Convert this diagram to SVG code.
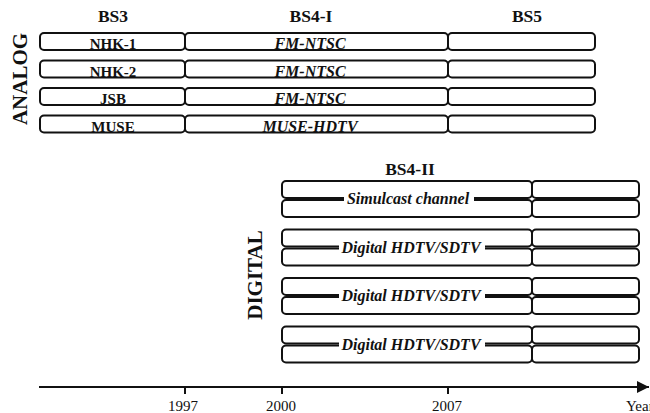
<svg xmlns="http://www.w3.org/2000/svg" width="650" height="413" viewBox="0 0 650 413">
<defs>
<style>
.box{fill:#fff;stroke:#111;stroke-width:2;}
.hdr{font-family:"Liberation Serif",serif;font-weight:bold;font-size:17.5px;text-anchor:middle;fill:#111;}
.lbl{font-family:"Liberation Serif",serif;font-weight:bold;font-size:15px;text-anchor:middle;fill:#111;}
.ital{font-family:"Liberation Serif",serif;font-weight:bold;font-style:italic;font-size:16px;text-anchor:middle;fill:#111;}
.side{font-family:"Liberation Serif",serif;font-weight:bold;font-size:21px;text-anchor:middle;fill:#111;}
.yr{font-family:"Liberation Serif",serif;font-size:15px;text-anchor:middle;fill:#111;}
.ax{stroke:#111;stroke-width:2;fill:none;}
</style>
<marker id="arr" viewBox="0 0 10 10" refX="10" refY="5" markerWidth="7" markerHeight="6" orient="auto" markerUnits="strokeWidth">
<path d="M0,0 L10,5 L0,10 z" fill="#111"/>
</marker>
</defs>
<rect width="650" height="413" fill="#fff"/>

<g id="headers">
<text class="hdr" x="113" y="22">BS3</text>
<text class="hdr" x="311" y="22">BS4-I</text>
<text class="hdr" x="527" y="22">BS5</text>
<text class="hdr" x="410" y="175">BS4-II</text>
</g>
<g id="side-labels">
<text class="side" transform="translate(27,79) rotate(-90)">ANALOG</text>
<text class="side" transform="translate(262,275) rotate(-90)">DIGITAL</text>
</g>

<g id="analog-row1">
<rect class="box" x="40" y="33" width="145" height="17" rx="4"/>
<rect class="box" x="185" y="33" width="263" height="17" rx="4"/>
<rect class="box" x="448" y="33" width="147" height="17" rx="4"/>
<text class="lbl" x="113" y="49">NHK-1</text>
<text class="ital" x="310" y="49">FM-NTSC</text>
</g>
<g id="analog-row2">
<rect class="box" x="40" y="60.5" width="145" height="17" rx="4"/>
<rect class="box" x="185" y="60.5" width="263" height="17" rx="4"/>
<rect class="box" x="448" y="60.5" width="147" height="17" rx="4"/>
<text class="lbl" x="113" y="76.5">NHK-2</text>
<text class="ital" x="310" y="76.5">FM-NTSC</text>
</g>
<g id="analog-row3">
<rect class="box" x="40" y="88" width="145" height="17" rx="4"/>
<rect class="box" x="185" y="88" width="263" height="17" rx="4"/>
<rect class="box" x="448" y="88" width="147" height="17" rx="4"/>
<text class="lbl" x="113" y="104">JSB</text>
<text class="ital" x="310" y="104">FM-NTSC</text>
</g>
<g id="analog-row4">
<rect class="box" x="40" y="115.5" width="145" height="17" rx="4"/>
<rect class="box" x="185" y="115.5" width="263" height="17" rx="4"/>
<rect class="box" x="448" y="115.5" width="147" height="17" rx="4"/>
<text class="lbl" x="113" y="131.5">MUSE</text>
<text class="ital" x="310" y="131.5">MUSE-HDTV</text>
</g>

<g id="digital-pair1">
<rect class="box" x="282" y="181" width="250" height="17" rx="4"/>
<rect class="box" x="282" y="200" width="250" height="17" rx="4"/>
<rect class="box" x="532" y="181" width="107" height="17" rx="4"/>
<rect class="box" x="532" y="200" width="107" height="17" rx="4"/>
<rect x="344" y="191" width="130" height="16" fill="#fff"/>
<text class="ital" x="408" y="204">Simulcast channel</text>
</g>
<g id="digital-pair2">
<rect class="box" x="282" y="229.5" width="250" height="17" rx="4"/>
<rect class="box" x="282" y="248.5" width="250" height="17" rx="4"/>
<rect class="box" x="532" y="229.5" width="107" height="17" rx="4"/>
<rect class="box" x="532" y="248.5" width="107" height="17" rx="4"/>
<rect x="339" y="239.5" width="146" height="16" fill="#fff"/>
<text class="ital" x="411" y="252.5">Digital HDTV/SDTV</text>
</g>
<g id="digital-pair3">
<rect class="box" x="282" y="278" width="250" height="17" rx="4"/>
<rect class="box" x="282" y="297" width="250" height="17" rx="4"/>
<rect class="box" x="532" y="278" width="107" height="17" rx="4"/>
<rect class="box" x="532" y="297" width="107" height="17" rx="4"/>
<rect x="339" y="288" width="146" height="16" fill="#fff"/>
<text class="ital" x="411" y="301">Digital HDTV/SDTV</text>
</g>
<g id="digital-pair4">
<rect class="box" x="282" y="326.5" width="250" height="17" rx="4"/>
<rect class="box" x="282" y="345.5" width="250" height="17" rx="4"/>
<rect class="box" x="532" y="326.5" width="107" height="17" rx="4"/>
<rect class="box" x="532" y="345.5" width="107" height="17" rx="4"/>
<rect x="339" y="336.5" width="146" height="16" fill="#fff"/>
<text class="ital" x="411" y="349.5">Digital HDTV/SDTV</text>
</g>

<g id="connectors">
<line class="ax" x1="39" y1="387" x2="649" y2="387" marker-end="url(#arr)"/>
<line class="ax" x1="185" y1="387" x2="185" y2="394"/>
<line class="ax" x1="282" y1="387" x2="282" y2="394"/>
<line class="ax" x1="448" y1="387" x2="448" y2="394"/>
</g>
<g id="axis-labels">
<text class="yr" x="183" y="411">1997</text>
<text class="yr" x="281" y="411">2000</text>
<text class="yr" x="447" y="411">2007</text>
<text class="yr" x="626" y="411" style="text-anchor:start">Year</text>
</g>
</svg>
